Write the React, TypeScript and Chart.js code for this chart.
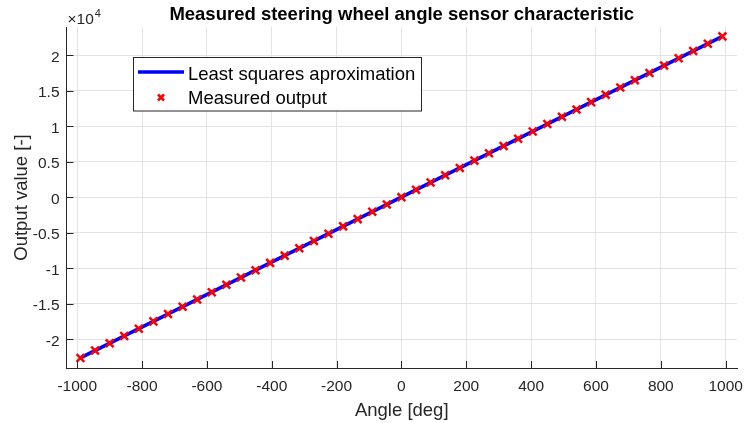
import React, { useEffect, useRef } from "react";
import { Chart, registerables } from "chart.js";

Chart.register(...registerables);

// Steering wheel angle [deg] at which the sensor output was recorded
const angles = [
  -990, -945, -900, -855, -810, -765, -720, -675, -630, -585, -540, -495, -450,
  -405, -360, -315, -270, -225, -180, -135, -90, -45, 0, 45, 90, 135, 180, 225,
  270, 315, 360, 405, 450, 495, 540, 585, 630, 675, 720, 765, 810, 855, 900,
  945, 990,
];

// Raw sensor output at each angle
const measured = [
  -22620, -21590, -20570, -19540, -18510, -17480, -16450, -15420, -14400,
  -13370, -12340, -11310, -10280, -9250, -8230, -7200, -6170, -5140, -4110,
  -3090, -2060, -1030, 0, 1030, 2060, 3090, 4110, 5140, 6170, 7200, 8230, 9250,
  10280, 11310, 12340, 13370, 14400, 15420, 16450, 17480, 18510, 19540, 20570,
  21590, 22620,
];

// Least squares line end points
const fitAngles = [-990, 990];
const fitValues = [-22620, 22620];

const xTicks = [-1000, -800, -600, -400, -200, 0, 200, 400, 600, 800, 1000];
const yTicks = [-20000, -15000, -10000, -5000, 0, 5000, 10000, 15000, 20000];
const yTickLabels = ["-2", "-1.5", "-1", "-0.5", "0", "0.5", "1", "1.5", "2"];

const titleText = "Measured steering wheel angle sensor characteristic";
const xTitle = "Angle [deg]";
const yTitle = "Output value [-]";
const legendLabels = ["Least squares aproximation", "Measured output"];

const FONT = '"Liberation Sans", Arial, Helvetica, sans-serif';
const AXIS_COLOR = "#262626";

function drawCross(ctx: CanvasRenderingContext2D, cx: number, cy: number, h: number) {
  ctx.beginPath();
  ctx.moveTo(cx - h, cy - h);
  ctx.lineTo(cx + h, cy + h);
  ctx.moveTo(cx - h, cy + h);
  ctx.lineTo(cx + h, cy - h);
  ctx.stroke();
}

const decorations = {
  id: "decorations",
  afterDraw(chart: any) {
    const { ctx, chartArea } = chart;
    const xs = chart.scales.x;
    const ys = chart.scales.y;
    const { left, right, top, bottom } = chartArea;
    ctx.save();

    // inward tick marks
    ctx.strokeStyle = AXIS_COLOR;
    ctx.lineWidth = 1;
    ctx.beginPath();
    xTicks.forEach((v) => {
      const px = Math.round(xs.getPixelForValue(v)) + 0.5;
      ctx.moveTo(px, bottom);
      ctx.lineTo(px, bottom - 7);
    });
    yTicks.forEach((v) => {
      const py = Math.round(ys.getPixelForValue(v)) + 0.5;
      ctx.moveTo(left, py);
      ctx.lineTo(left + 7, py);
    });
    ctx.stroke();

    // tick labels
    ctx.fillStyle = AXIS_COLOR;
    ctx.font = `15.5px ${FONT}`;
    ctx.textBaseline = "alphabetic";
    ctx.textAlign = "center";
    xTicks.forEach((v) => {
      ctx.fillText(String(v), xs.getPixelForValue(v), bottom + 23);
    });
    ctx.textAlign = "right";
    yTicks.forEach((v, i) => {
      ctx.fillText(yTickLabels[i], left - 7, ys.getPixelForValue(v) + 6.5);
    });

    // exponent marker
    ctx.textAlign = "left";
    ctx.font = `15.5px ${FONT}`;
    ctx.fillText("\u00d710", left + 1, top - 3);
    const w = ctx.measureText("\u00d710").width;
    ctx.font = `11px ${FONT}`;
    ctx.fillText("4", left + 1 + w + 1, top - 10);

    // axis titles
    ctx.font = `18.5px ${FONT}`;
    ctx.textAlign = "center";
    ctx.fillText(xTitle, (left + right) / 2, 415.5);
    ctx.save();
    ctx.translate(26.5, (top + bottom) / 2);
    ctx.rotate(-Math.PI / 2);
    ctx.fillText(yTitle, 0, 0);
    ctx.restore();

    // title
    ctx.fillStyle = "#000";
    ctx.font = `bold 18.5px ${FONT}`;
    ctx.fillText(titleText, (left + right) / 2, 19.5);

    // legend
    const lx = 133.5;
    const ly = 57.5;
    ctx.fillStyle = "#fff";
    ctx.fillRect(lx, ly, 288, 53.5);
    ctx.strokeStyle = AXIS_COLOR;
    ctx.lineWidth = 1;
    ctx.strokeRect(lx, ly, 288, 53.5);

    ctx.strokeStyle = "#0000ff";
    ctx.lineWidth = 3.5;
    ctx.beginPath();
    ctx.moveTo(138, 72);
    ctx.lineTo(184, 72);
    ctx.stroke();

    ctx.strokeStyle = "#ff0000";
    ctx.lineWidth = 2.5;
    drawCross(ctx, 161, 97.5, 3);

    ctx.fillStyle = "#000";
    ctx.font = `18.5px ${FONT}`;
    ctx.textAlign = "left";
    ctx.fillText(legendLabels[0], 188, 80);
    ctx.fillText(legendLabels[1], 188, 104);

    ctx.restore();
  },
};

export default function App() {
  const canvasRef = useRef<HTMLCanvasElement | null>(null);

  useEffect(() => {
    const canvas = canvasRef.current;
    if (!canvas) return;
    const chart = new Chart(canvas, {
      type: "scatter",
      data: {
        datasets: [
          {
            label: legendLabels[1],
            data: angles.map((a, i) => ({ x: a, y: measured[i] })),
            showLine: false,
            pointStyle: "crossRot",
            pointRadius: 5.5,
            pointBorderWidth: 2.5,
            pointBorderColor: "#ff0000",
            pointBackgroundColor: "#ff0000",
            order: 0,
          },
          {
            label: legendLabels[0],
            data: fitAngles.map((a, i) => ({ x: a, y: fitValues[i] })),
            showLine: true,
            borderColor: "#0000ff",
            borderWidth: 3.5,
            pointRadius: 0,
            order: 1,
          },
        ],
      },
      options: {
        animation: false,
        responsive: false,
        devicePixelRatio: 1,
        layout: { padding: { top: 27, right: 6, left: 0, bottom: 0 } },
        plugins: {
          legend: { display: false },
          title: { display: false },
          tooltip: { enabled: false },
        },
        scales: {
          x: {
            type: "linear",
            min: -1033,
            max: 1035,
            afterBuildTicks: (scale: any) => {
              scale.ticks = xTicks.map((v) => ({ value: v }));
            },
            afterFit: (scale: any) => {
              scale.height = 55;
            },
            ticks: { display: false },
            grid: { color: "#e3e3e3", lineWidth: 1, drawTicks: false },
            border: { display: true, color: AXIS_COLOR, width: 1 },
          },
          y: {
            type: "linear",
            min: -24040,
            max: 23940,
            afterBuildTicks: (scale: any) => {
              scale.ticks = yTicks.map((v) => ({ value: v }));
            },
            afterFit: (scale: any) => {
              scale.width = 66.5;
            },
            ticks: { display: false },
            grid: { color: "#e3e3e3", lineWidth: 1, drawTicks: false },
            border: { display: true, color: AXIS_COLOR, width: 1 },
          },
        },
      },
      plugins: [decorations],
    });
    return () => chart.destroy();
  }, []);

  return (
    <div style={{ position: "absolute", left: 0, top: 0, width: 745, height: 423, background: "#fff" }}>
      <canvas ref={canvasRef} width={745} height={423} style={{ width: 745, height: 423, display: "block" }} />
    </div>
  );
}
